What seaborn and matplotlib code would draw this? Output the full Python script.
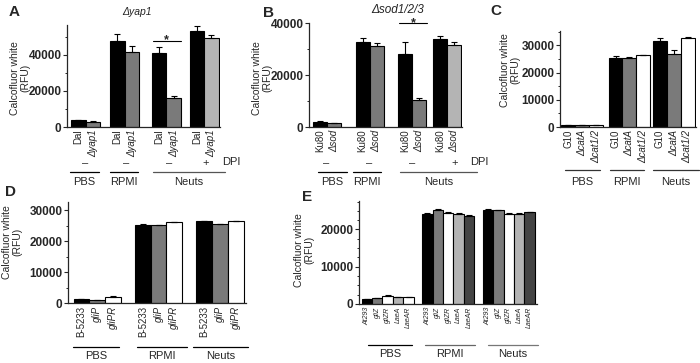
import numpy as np
import pandas as pd
import matplotlib
matplotlib.use("Agg")
import matplotlib.pyplot as plt
import seaborn as sns
from matplotlib.lines import Line2D
from matplotlib.ticker import MultipleLocator, FixedLocator

# ------------------------- data -------------------------
conditions = ["PBS", "RPMI", "Neuts"]
dpi_marks = ["–", "–", "–", "+"]

a_title = "Δyap1"
a_strains = ["Dal", "Δyap1", "Dal", "Δyap1", "Dal", "Δyap1", "Dal", "Δyap1"]
a_values = [3700, 2800, 47900, 41400, 41000, 16200, 53000, 49100]
a_errors = [300, 300, 3600, 3700, 3200, 700, 3100, 1900]

b_title = "Δsod1/2/3"
b_strains = ["Ku80", "Δsod", "Ku80", "Δsod", "Ku80", "Δsod", "Ku80", "Δsod"]
b_values = [1950, 1560, 32800, 31000, 28000, 10400, 33900, 31700]
b_errors = [200, 150, 1300, 1200, 4800, 900, 1000, 1100]

c_strains = ["G10", "ΔcatA", "Δcat1/2", "G10", "ΔcatA", "Δcat1/2", "G10", "ΔcatA", "Δcat1/2"]
c_values = [600, 600, 700, 25460, 25300, 26300, 31600, 26700, 32800]
c_errors = [200, 150, 100, 500, 350, 250, 1200, 1700, 250]

d_strains = ["B-5233", "gliP", "gliPR", "B-5233", "gliP", "gliPR", "B-5233", "gliP", "gliPR"]
d_values = [1300, 1000, 2000, 25200, 25100, 26100, 26400, 25400, 26400]
d_errors = [100, 100, 100, 200, 200, 150, 150, 150, 150]

e_strains = ["At293", "gliZ", "gliZR", "LaeA", "LaeAR"] * 3
e_values = [1330, 1600, 2220, 1870, 1870,
            24270, 25330, 24530, 24270, 23650,
            25330, 25160, 24270, 24270, 24620]
e_errors = [100, 100, 100, 100, 100,
            250, 200, 200, 200, 200,
            200, 200, 150, 150, 200]

ylabel = "Calcofluor white\n(RFU)"

# ------------------------- style -------------------------
sns.set_style("ticks")
plt.rcParams["font.family"] = ["Liberation Sans", "DejaVu Sans"]
plt.rcParams["axes.linewidth"] = 0.9

W, H = 700, 363
fig = plt.figure(figsize=(W / 100, H / 100), dpi=100)

BLK, GRY, LGR, WHT, DGR = "#000000", "#7a7a7a", "#b4b4b4", "#ffffff", "#444444"


def add_ax(l, t, r, b):
    return fig.add_axes([l / W, 1 - b / H, (r - l) / W, (b - t) / H])


def ftext(x, y, s, **kw):
    kw.setdefault("ha", "center")
    kw.setdefault("va", "center")
    fig.text(x / W, 1 - y / H, s, **kw)


def fline(x0, x1, y, color="black", lw=0.9):
    fig.add_artist(Line2D([x0 / W, x1 / W], [1 - y / H, 1 - y / H],
                          transform=fig.transFigure, color=color, lw=lw))


def panel(box, pos, labels, values, errors, colors, xlim, ylim, major, minor,
          italic, tick_fs=7):
    ax = add_ax(*box)
    n = len(values)
    ids = [str(i) for i in range(n)]
    df = pd.DataFrame({"pos": pos, "val": values, "bar": ids})
    sns.barplot(data=df, x="pos", y="val", hue="bar", hue_order=ids,
                palette=dict(zip(ids, colors)), native_scale=True, width=1.0,
                dodge=False, errorbar=None, saturation=1, edgecolor="black",
                linewidth=0.8, legend=False, ax=ax)
    ax.errorbar(pos, values, yerr=[np.zeros(n), errors], fmt="none",
                ecolor="black", elinewidth=0.8, capsize=2.5, capthick=0.8,
                zorder=3)
    ax.set_xlim(*xlim)
    ax.set_ylim(*ylim)
    ax.set_xlabel("")
    ax.set_ylabel("")
    ax.yaxis.set_major_locator(FixedLocator(major))
    ax.yaxis.set_minor_locator(MultipleLocator(minor))
    ax.set_yticklabels([str(m) for m in major], fontweight="bold", fontsize=8.5)
    ax.set_xticks(pos)
    ax.set_xticklabels(labels, rotation=90, fontsize=tick_fs)
    for lab, it in zip(ax.get_xticklabels(), italic):
        if it:
            lab.set_fontstyle("italic")
    ax.tick_params(axis="x", length=0, pad=2)
    ax.tick_params(axis="y", which="major", length=3, width=0.8, pad=1)
    ax.tick_params(axis="y", which="minor", length=1.8, width=0.7)
    sns.despine(ax=ax)
    return ax


# ------------------------- panel A -------------------------
posA = [0, 1, 2.7, 3.7, 5.6, 6.6, 8.2, 9.2]
axA = panel((67, 25, 220, 127), posA, a_strains, a_values, a_errors,
            [BLK, GRY, BLK, GRY, BLK, GRY, BLK, LGR],
            (-0.78, 9.8), (0, 56500), [0, 20000, 40000], 10000,
            [s.startswith("Δ") for s in a_strains])
axA.plot([5.2, 7.1], [47800, 47800], color="black", lw=0.8, clip_on=False)
axA.text(6.1, 46300, "*", ha="center", va="baseline", fontsize=9,
         fontweight="bold")
ftext(137, 12, a_title, fontstyle="italic", fontsize=7.5)
ftext(14, 12, "A", fontweight="bold", fontsize=11)
ftext(20, 78, ylabel, rotation=90, fontsize=7.5, linespacing=1.05)
for x, m in zip([85, 126, 169, 206], dpi_marks):
    ftext(x, 163, m, fontsize=8)
ftext(222, 162, "DPI", ha="left", fontsize=8)
for (x0, x1), lab, col in zip([(70, 99), (110, 138), (153, 225)], conditions,
                              ["black", "black", "#555555"]):
    fline(x0, x1, 172, col)
    ftext((x0 + x1) / 2, 182, lab, fontsize=8)

# ------------------------- panel B -------------------------
posB = [0, 1, 3, 4, 6, 7, 8.5, 9.5]
axB = panel((309, 23, 462, 127), posB, b_strains, b_values, b_errors,
            [BLK, GRY, BLK, GRY, BLK, GRY, BLK, LGR],
            (-0.8, 10.05), (0, 40000), [0, 20000, 40000], 10000,
            [s.startswith("Δ") for s in b_strains])
axB.plot([5.6, 7.6], [40100, 40100], color="black", lw=0.8, clip_on=False)
axB.text(6.6, 38700, "*", ha="center", va="baseline", fontsize=9,
         fontweight="bold", clip_on=False)
ftext(398, 10, b_title, fontstyle="italic", fontsize=8.5)
ftext(268, 13, "B", fontweight="bold", fontsize=11)
ftext(262, 78, ylabel, rotation=90, fontsize=7.5, linespacing=1.05)
for x, m in zip([326, 369, 412, 455], dpi_marks):
    ftext(x, 163, m, fontsize=8)
ftext(470, 162, "DPI", ha="left", fontsize=8)
for (x0, x1), lab, col in zip([(318, 347), (353, 381), (400, 477)], conditions,
                              ["black", "black", "#555555"]):
    fline(x0, x1, 172, col)
    ftext((x0 + x1) / 2, 182, lab, fontsize=8)

# ------------------------- panel C -------------------------
posC = [0, 1, 2, 3.4, 4.4, 5.4, 6.6, 7.6, 8.6]
axC = panel((560, 31, 696, 127), posC, c_strains, c_values, c_errors,
            [BLK, GRY, WHT] * 3,
            (-0.6, 9.2), (0, 35250), [0, 10000, 20000, 30000], 5000,
            [s.startswith("Δ") for s in c_strains])
ftext(496, 11, "C", fontweight="bold", fontsize=11)
ftext(510, 70, ylabel, rotation=90, fontsize=7.5, linespacing=1.05)
for (x0, x1), lab in zip([(565, 600), (610, 644), (653, 699)], conditions):
    fline(x0, x1, 170, "#333333")
    ftext((x0 + x1) / 2, 182, lab, fontsize=8)

# ------------------------- panel D -------------------------
posD = [0, 1, 2, 3.9, 4.9, 5.9, 7.8, 8.8, 9.8]
axD = panel((68, 202, 246, 303), posD, d_strains, d_values, d_errors,
            [BLK, GRY, WHT] * 3,
            (-0.85, 10.45), (0, 32600), [0, 10000, 20000, 30000], 5000,
            [s.startswith("gli") for s in d_strains])
ftext(11, 192, "D", fontweight="bold", fontsize=11)
ftext(12, 242, ylabel, rotation=90, fontsize=7.5, linespacing=1.05)
for (x0, x1), lab in zip([(73, 119), (137, 187), (193, 248)], conditions):
    fline(x0, x1, 347, "black")
    ftext((x0 + x1) / 2, 356, lab, fontsize=8)

# ------------------------- panel E -------------------------
posE = [0, 1, 2, 3, 4, 5.8, 6.8, 7.8, 8.8, 9.8, 11.6, 12.6, 13.6, 14.6, 15.6]
axE = panel((359, 201, 537, 304), posE, e_strains, e_values, e_errors,
            [BLK, GRY, WHT, LGR, WHT] + [BLK, GRY, WHT, LGR, DGR] * 2,
            (-0.75, 16.3), (0, 27650), [0, 10000, 20000], 2500,
            [True] * len(e_strains), tick_fs=5)
ftext(307, 197, "E", fontweight="bold", fontsize=11)
ftext(304, 250, ylabel, rotation=90, fontsize=7.5, linespacing=1.05)
for (x0, x1), lab, col in zip([(368, 412), (425, 475), (488, 538)], conditions,
                              ["black", "#666666", "#777777"]):
    fline(x0, x1, 345, col)
    ftext((x0 + x1) / 2, 354, lab, fontsize=8)

fig.savefig("out.png", dpi=100)
